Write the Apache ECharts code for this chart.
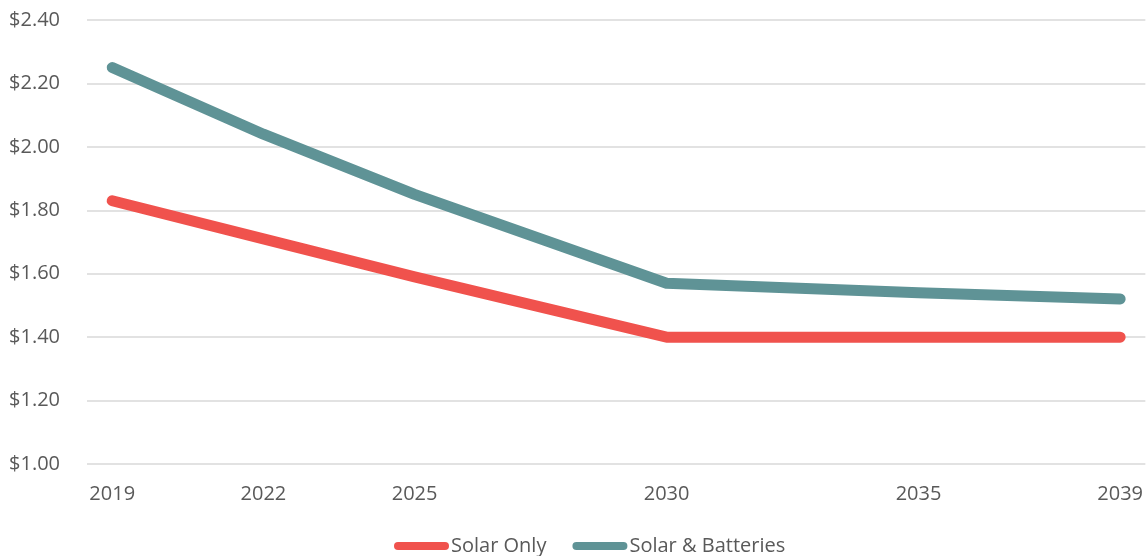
<!DOCTYPE html>
<html>
<head>
<meta charset="utf-8">
<script src="https://cdn.jsdelivr.net/npm/echarts@6/dist/echarts.min.js"></script>
<style>
  html, body { margin: 0; padding: 0; background: #ffffff; }
  #chart { width: 1146px; height: 556px; }
</style>
</head>
<body>
<div id="chart"></div>
<script>
// every year on the axis, only some get a label
const years = [];
for (let y = 2019; y <= 2039; y++) years.push(String(y));
const yearLabels = ["2019", "2022", "2025", "2030", "2035", "2039"];

const solarYears = ["2019", "2022", "2025", "2030", "2035", "2039"];
const solarOnly = [1.83, 1.71, 1.59, 1.40, 1.40, 1.40];
const batteryYears = ["2019", "2022", "2025", "2030", "2035", "2039"];
const solarBatteries = [2.25, 2.04, 1.85, 1.57, 1.54, 1.52];

const textColor = "#595959";
const font = "'Open Sans', 'Liberation Sans', sans-serif";

const chart = echarts.init(document.getElementById("chart"));

const capsule = "path://M4,0 H51 A4,4 0 0 1 51,8 H4 A4,4 0 0 1 4,0 Z";

chart.setOption({
  animation: false,
  grid: { left: 87, right: 0, top: 20, bottom: 92, containLabel: false },
  legend: {
    left: 389,
    top: 531,
    itemWidth: 55,
    itemHeight: 8,
    itemGap: 26,
    textStyle: { color: textColor, fontSize: 20, fontFamily: font, padding: [0, 0, 0, -3] },
    data: [
      { name: "Solar Only", icon: capsule },
      { name: "Solar & Batteries", icon: capsule }
    ]
  },
  xAxis: {
    type: "category",
    data: years,
    boundaryGap: true,
    axisLine: { show: false },
    axisTick: { show: false },
    axisLabel: {
      interval: (i, v) => yearLabels.includes(v),
      color: textColor,
      fontSize: 20,
      fontFamily: font,
      margin: 20
    }
  },
  yAxis: {
    type: "value",
    min: 1,
    max: 2.4,
    interval: 0.2,
    axisLine: { show: false },
    axisTick: { show: false },
    axisLabel: {
      color: textColor,
      fontSize: 20,
      fontFamily: font,
      margin: 27,
      formatter: v => "$" + v.toFixed(2)
    },
    splitLine: { lineStyle: { color: "#d9d9d9", width: 1.5 } }
  },
  series: [
    {
      name: "Solar Only",
      type: "line",
      data: solarYears.map((y, i) => [y, solarOnly[i]]),
      showSymbol: false,
      symbol: "none",
      color: "#f0524d",
      lineStyle: { width: 11, cap: "round", join: "round", color: "#f0524d" }
    },
    {
      name: "Solar & Batteries",
      type: "line",
      data: batteryYears.map((y, i) => [y, solarBatteries[i]]),
      showSymbol: false,
      symbol: "none",
      color: "#5f9396",
      lineStyle: { width: 11, cap: "round", join: "round", color: "#5f9396" }
    }
  ]
});
</script>
</body>
</html>
